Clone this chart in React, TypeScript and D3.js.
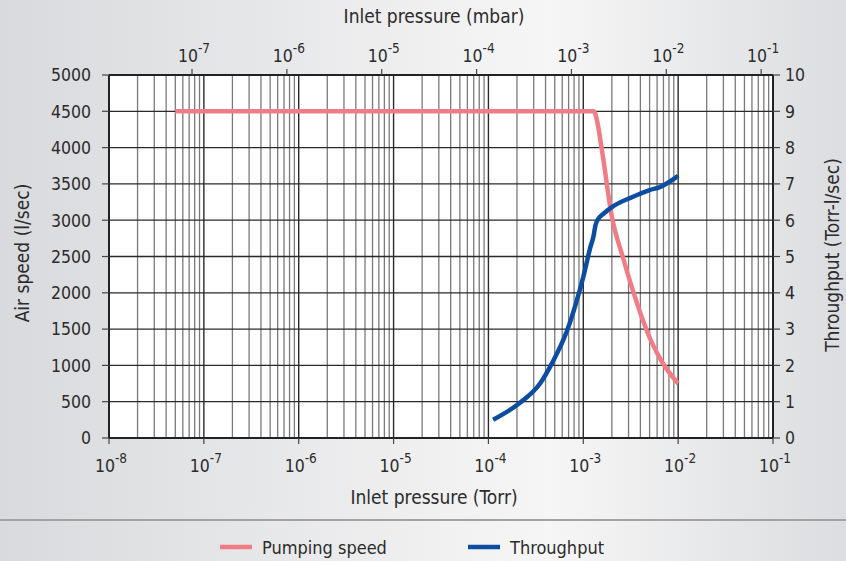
import React from "react";
import * as d3 from "d3";

// ---- data ----
const pumpPressure = [5e-8, 1.3e-3, 1.38e-3, 1.6e-3, 2.0e-3, 2.6e-3, 3.3e-3, 4.0e-3, 5.3e-3, 6.9e-3, 1e-2];
const pumpSpeed = [4500, 4500, 4400, 3900, 3050, 2500, 2050, 1720, 1310, 1030, 750];

const thrPressure = [1.12e-4, 2.1e-4, 3.5e-4, 4.7e-4, 6.8e-4, 8.4e-4, 1.0e-3, 1.2e-3, 1.28e-3, 1.34e-3, 1.45e-3, 1.62e-3, 2.0e-3, 3.3e-3, 5.0e-3, 6.4e-3, 1e-2];
const thrValue = [0.5, 0.95, 1.5, 2.07, 2.98, 3.72, 4.44, 5.3, 5.55, 5.85, 6.05, 6.17, 6.36, 6.64, 6.83, 6.91, 7.22];

const torrExponents = [-8, -7, -6, -5, -4, -3, -2, -1];
const mbarExponents = [-7, -6, -5, -4, -3, -2, -1];
const leftTicks = [0, 500, 1000, 1500, 2000, 2500, 3000, 3500, 4000, 4500, 5000];
const rightTicks = [0, 1, 2, 3, 4, 5, 6, 7, 8, 9, 10];

const seriesNames = ["Pumping speed", "Throughput"];
const seriesColors = ["#F27C86", "#0C4DA2"];

const MBAR_TO_TORR = 0.750062;

const W = 846;
const H = 561;
const M = { left: 109, right: 773, top: 75, bottom: 438 };
const FONT = "'Liberation Sans Narrow', 'DejaVu Sans Condensed', sans-serif";

export default function App() {
  const x = d3.scaleLog().domain([1e-8, 1e-1]).range([M.left, M.right]);
  const yL = d3.scaleLinear().domain([0, 5000]).range([M.bottom, M.top]);
  const yR = d3.scaleLinear().domain([0, 10]).range([M.bottom, M.top]);

  const minor: number[] = [];
  for (let e = -8; e < -1; e++) {
    for (let k = 2; k <= 9; k++) minor.push(k * Math.pow(10, e));
  }

  const pumpLine = d3
    .line<number>()
    .x((_, i) => x(pumpPressure[i]))
    .y((d) => yL(d))
    .curve(d3.curveMonotoneX)(pumpSpeed);

  const thrLine = d3
    .line<number>()
    .x((_, i) => x(thrPressure[i]))
    .y((d) => yR(d))
    .curve(d3.curveMonotoneX)(thrValue);

  const sup = (e: number) => (
    <>
      <tspan>10</tspan>
      <tspan dy={-9} fontSize={13.5}>{String(e)}</tspan>
    </>
  );

  const txt = "#2b2b2b";

  return (
    <svg
      width={W}
      height={H}
      style={{ position: "absolute", left: 0, top: 0 }}
      fontFamily={FONT}
    >
      <defs>
        <linearGradient id="bg" x1="0" x2="1" y1="0" y2="0">
          <stop offset="0%" stopColor="#d9dadd" />
          <stop offset="65%" stopColor="#f6f6f6" />
          <stop offset="100%" stopColor="#dcdde0" />
        </linearGradient>
      </defs>
      <rect x={0} y={0} width={W} height={H} fill="url(#bg)" />

      {/* plot area */}
      <rect x={M.left} y={M.top} width={M.right - M.left} height={M.bottom - M.top} fill="#fff" />

      {/* minor vertical grid */}
      {minor.map((v, i) => (
        <line key={"mn" + i} x1={x(v)} x2={x(v)} y1={M.top} y2={M.bottom} stroke="#7a7a7a" strokeWidth={1.3} />
      ))}
      {/* major vertical grid */}
      {torrExponents.map((e) => (
        <line key={"mj" + e} x1={x(Math.pow(10, e))} x2={x(Math.pow(10, e))} y1={M.top} y2={M.bottom} stroke="#2a2a2a" strokeWidth={1.4} />
      ))}
      {/* horizontal grid */}
      {leftTicks.map((v) => (
        <line key={"h" + v} x1={M.left} x2={M.right} y1={yL(v)} y2={yL(v)} stroke="#2a2a2a" strokeWidth={1.3} />
      ))}

      {/* frame */}
      <line x1={M.left} x2={M.right} y1={M.top} y2={M.top} stroke="#222" strokeWidth={2} />
      <line x1={M.left} x2={M.right} y1={M.bottom} y2={M.bottom} stroke="#222" strokeWidth={2.2} />
      <line x1={M.left} x2={M.left} y1={M.top} y2={M.bottom} stroke="#222" strokeWidth={2} />
      <line x1={M.right} x2={M.right} y1={M.top} y2={M.bottom} stroke="#222" strokeWidth={2} />

      {/* left axis */}
      {leftTicks.map((v) => (
        <g key={"lt" + v}>
          <line x1={M.left - 7} x2={M.left} y1={yL(v)} y2={yL(v)} stroke="#444" strokeWidth={1.2} />
          <text x={91} y={yL(v)} dy="0.36em" textAnchor="end" fontSize={17.5} fill={txt}>
            {v}
          </text>
        </g>
      ))}
      {/* right axis */}
      {rightTicks.map((v) => (
        <g key={"rt" + v}>
          <line x1={M.right} x2={M.right + 7} y1={yR(v)} y2={yR(v)} stroke="#444" strokeWidth={1.2} />
          <text x={785} y={yR(v)} dy="0.36em" textAnchor="start" fontSize={17.5} fill={txt}>
            {v}
          </text>
        </g>
      ))}

      {/* bottom axis (Torr) */}
      {torrExponents.map((e) => {
        const px = x(Math.pow(10, e));
        return (
          <g key={"bt" + e}>
            <line x1={px} x2={px} y1={M.bottom} y2={M.bottom + 6} stroke="#444" strokeWidth={1.2} />
            <text x={px + 2} y={472} textAnchor="middle" fontSize={17.5} fill={txt}>
              {sup(e)}
            </text>
          </g>
        );
      })}
      {/* top axis (mbar) */}
      {mbarExponents.map((e) => {
        const px = x(Math.pow(10, e) * MBAR_TO_TORR);
        return (
          <g key={"tt" + e}>
            <line x1={px} x2={px} y1={M.top - 6} y2={M.top} stroke="#444" strokeWidth={1.2} />
            <text x={px + 2} y={62} textAnchor="middle" fontSize={17.5} fill={txt}>
              {sup(e)}
            </text>
          </g>
        );
      })}

      {/* axis titles */}
      <text x={434} y={23} textAnchor="middle" fontSize={19} fill={txt}>
        Inlet pressure (mbar)
      </text>
      <text x={434} y={504} textAnchor="middle" fontSize={19} fill={txt}>
        Inlet pressure (Torr)
      </text>
      <text transform={`translate(29,253) rotate(-90)`} textAnchor="middle" fontSize={19} fill={txt}>
        Air speed (l/sec)
      </text>
      <text transform={`translate(839,255) rotate(-90)`} textAnchor="middle" fontSize={19} fill={txt}>
        Throughput (Torr-l/sec)
      </text>

      {/* series */}
      <path d={pumpLine || ""} fill="none" stroke={seriesColors[0]} strokeWidth={4.5} strokeLinejoin="round" />
      <path d={thrLine || ""} fill="none" stroke={seriesColors[1]} strokeWidth={4.5} strokeLinejoin="round" />

      {/* separator */}
      <line x1={0} x2={W} y1={520} y2={520} stroke="#a3a3a3" strokeWidth={2.2} />

      {/* legend */}
      {seriesNames.map((name, i) => {
        const lx = i === 0 ? 220 : 468;
        return (
          <g key={name}>
            <line x1={lx} x2={lx + 32} y1={547} y2={547} stroke={seriesColors[i]} strokeWidth={4.5} />
            <text x={lx + 42} y={554} fontSize={18} fill={txt}>
              {name}
            </text>
          </g>
        );
      })}
    </svg>
  );
}
